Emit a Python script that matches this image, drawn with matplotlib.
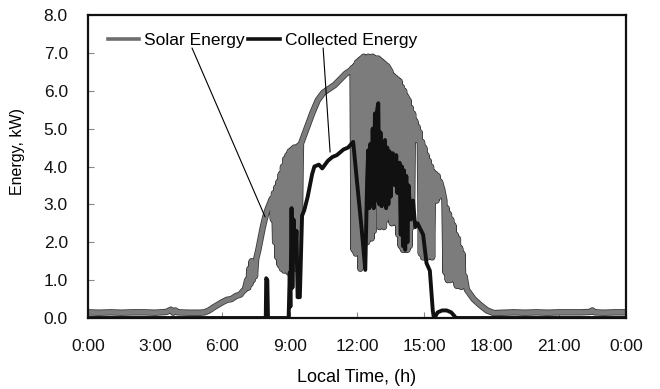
import matplotlib
matplotlib.use("Agg")
import matplotlib.pyplot as plt
import matplotlib.patheffects as pe
from matplotlib.lines import Line2D

plt.rcParams['font.family'] = ['Liberation Sans', 'DejaVu Sans']

# Solar energy on the collector surface (hour of day, kW)
solar_hours = [
    0.0, 0.5, 1.0, 1.5, 2.0, 2.5, 3.0, 3.5, 3.7, 3.8, 3.9, 4.0, 4.5, 5.0, 5.2,
    5.4, 5.6, 5.8, 6.0, 6.2, 6.4, 6.6, 6.8, 6.9,
    7.0, 7.1, 7.15, 7.2, 7.25, 7.3, 7.35, 7.4, 7.45, 7.5, 7.6, 7.7, 7.8, 7.9,
    8.0, 8.1, 8.2,
    8.25, 8.3, 8.35, 8.4, 8.45, 8.5, 8.55, 8.6, 8.65, 8.7, 8.75, 8.8, 8.85,
    8.9, 8.95, 9.0, 9.05, 9.1, 9.15, 9.2, 9.25, 9.3, 9.35, 9.4, 9.45, 9.5,
    9.75, 10.0, 10.25, 10.5, 10.75, 11.0, 11.25, 11.5, 11.75,
    11.8, 11.85, 11.9, 11.95, 12.0, 12.05, 12.1, 12.15, 12.2, 12.25, 12.3,
    12.35, 12.4, 12.45, 12.5, 12.55, 12.6, 12.65, 12.7, 12.75, 12.8, 12.95,
    13.0, 13.05, 13.1, 13.15, 13.2, 13.25, 13.3, 13.35, 13.5, 13.55, 13.6,
    13.65, 13.7, 13.75, 13.8, 13.85, 13.9, 13.95, 14.0, 14.05, 14.1, 14.15,
    14.2, 14.25, 14.3, 14.35, 14.4, 14.45, 14.5, 14.55, 14.6, 14.65, 14.7,
    14.75, 14.8, 14.85, 14.9, 14.95, 15.0, 15.05, 15.1, 15.15, 15.2, 15.25,
    15.3, 15.35, 15.4, 15.45, 15.5, 15.55, 15.6, 15.65, 15.7, 15.8, 15.9,
    15.95, 16.0, 16.05, 16.1, 16.15, 16.2, 16.25, 16.3, 16.35, 16.4, 16.45,
    16.5, 16.55, 16.6, 16.65, 16.7, 16.75, 16.8, 16.9,
    17.2, 17.5, 17.8, 18.1, 18.5, 19.0, 19.5, 20.0, 20.5, 21.0, 21.5, 22.0,
    22.4, 22.5, 22.6, 23.0, 23.5, 24.0,
]
solar_kw = [
    0.15, 0.14, 0.15, 0.14, 0.15, 0.15, 0.14, 0.16, 0.22, 0.14, 0.20, 0.15, 0.14, 0.14, 0.15,
    0.20, 0.28, 0.35, 0.42, 0.48, 0.50, 0.58, 0.62, 0.70,
    0.75, 1.00, 0.80, 1.30, 0.90, 1.50, 1.00, 1.45, 1.10, 1.55, 1.80, 2.10, 2.40, 2.65,
    2.85, 3.00, 3.15,
    2.60, 3.30, 2.00, 3.45, 1.60, 3.60, 1.40, 3.80, 1.30, 4.00, 1.25, 4.20, 1.40,
    4.30, 1.20, 4.40, 1.30, 4.45, 2.00, 4.50, 1.30, 4.50, 1.50, 4.55, 2.50, 4.60,
    5.00, 5.40, 5.75, 5.95, 6.05, 6.15, 6.30, 6.45, 6.55,
    6.60, 1.80, 6.65, 1.70, 6.75, 1.80, 6.80, 1.30, 6.85, 2.00, 6.90,
    2.10, 6.85, 2.00, 6.90, 2.20, 6.88, 2.10, 6.90, 2.30, 6.85, 6.85,
    2.40, 6.80, 2.50, 6.75, 2.40, 6.70, 2.60, 6.65, 6.50, 2.50, 6.40,
    2.60, 6.35, 2.50, 6.30, 2.20, 6.25, 1.90, 6.10, 1.80, 6.00, 1.80,
    5.85, 1.80, 5.75, 1.90, 5.55, 2.40, 5.40, 4.80, 5.20, 4.70, 5.05,
    4.70, 4.90, 1.70, 4.65, 1.60, 4.50, 1.60, 4.30, 1.60, 4.15, 1.70,
    4.00, 1.60, 3.85, 3.10, 3.80, 3.10, 3.75, 3.20, 3.60, 3.40, 3.10,
    1.20, 2.90, 1.00, 2.75, 1.00, 2.60, 1.10, 2.45, 1.00, 2.20, 0.85,
    2.10, 0.85, 1.85, 0.82, 1.70, 0.85, 1.10, 0.75,
    0.50, 0.34, 0.20, 0.13, 0.14, 0.15, 0.14, 0.15, 0.14, 0.15, 0.15, 0.15,
    0.16, 0.20, 0.15, 0.14, 0.15, 0.15,
]

# Energy collected by the system (hour of day, kW)
collected_hours = [
    0.0, 7.9, 7.93, 7.95, 8.0, 8.03, 8.95, 9.0, 9.03, 9.08, 9.12, 9.17, 9.22,
    9.3, 9.35, 9.45, 9.55, 9.65, 9.8, 10.0, 10.1, 10.3, 10.45, 10.7, 10.9,
    11.1, 11.4, 11.6, 11.83, 12.0, 12.2, 12.37, 12.45, 12.5, 12.55, 12.6,
    12.65, 12.7, 12.75, 12.8, 12.85, 12.9, 12.95, 13.0, 13.05, 13.1, 13.15,
    13.2, 13.25, 13.3, 13.35, 13.4, 13.45, 13.5, 13.6, 13.7, 13.75, 13.8,
    13.9, 13.95, 14.0, 14.05, 14.1, 14.15, 14.2, 14.25, 14.3, 14.4, 14.5,
    14.6, 14.7, 14.95, 15.1, 15.25, 15.38, 15.43, 15.5, 15.6, 15.8, 16.0,
    16.2, 16.35, 16.4, 24.0,
]
collected_kw = [
    0.0, 0.0, 0.0, 1.05, 1.00, 0.0, 0.0, 1.20, 0.30, 2.90, 0.80, 2.60, 1.50,
    2.30, 0.55, 0.55, 2.70, 2.85, 3.20, 3.80, 4.00, 4.05, 3.95, 4.15, 4.25,
    4.30, 4.45, 4.50, 4.65, 3.60, 2.40, 1.27, 3.60, 4.43, 2.90, 4.60,
    3.00, 5.00, 2.90, 5.40, 3.10, 5.50, 5.67, 3.00, 4.90, 2.95, 4.60,
    3.10, 4.70, 2.90, 4.50, 3.00, 4.40, 3.20, 4.35, 3.50, 4.30, 3.30,
    4.10, 2.20, 4.00, 1.90, 3.90, 1.80, 3.75, 2.00, 3.50, 2.60, 3.10,
    2.40, 2.50, 2.20, 1.45, 1.25, 0.20, 0.0, 0.05, 0.15, 0.20, 0.20,
    0.15, 0.05, 0.0, 0.0,
]

tick_hours = [0, 3, 6, 9, 12, 15, 18, 21, 24]
tick_labels = ["0:00", "3:00", "6:00", "9:00", "12:00", "15:00", "18:00", "21:00", "0:00"]
energy_ticks = [0, 1, 2, 3, 4, 5, 6, 7, 8]

fig = plt.figure(figsize=(6.6, 3.89), dpi=100)
ax = fig.add_axes([0.1333, 0.1825, 0.8152, 0.7789])

ax.plot(solar_hours, solar_kw, color='#7c7c7c', lw=3.4,
        solid_joinstyle='round',
        path_effects=[pe.Stroke(linewidth=4.6, foreground='#3a3a3a'), pe.Normal()])
ax.plot(collected_hours, collected_kw, color='#111111', lw=2.8,
        solid_joinstyle='round')

ax.set_xlim(0, 24)
ax.set_ylim(0, 8)
ax.set_xticks(tick_hours)
ax.set_xticklabels(tick_labels)
ax.set_yticks(energy_ticks)
ax.set_yticklabels([f"{v:.1f}" for v in energy_ticks])
ax.tick_params(axis='both', direction='in', length=4, width=0.8, color='#888888',
               labelsize=12.5, labelcolor='#111111')
ax.tick_params(axis='x', pad=15)
ax.tick_params(axis='y', pad=14.5)
for s in ax.spines.values():
    s.set_linewidth(1.6)
    s.set_color('#111111')

ax.set_xlabel("Local Time, (h)", fontsize=13, labelpad=11)
ax.set_ylabel("Energy, kW)", fontsize=11.5)
ax.yaxis.set_label_coords(-0.117, 0.551)

legend_handles = [Line2D([], [], color='#6e6e6e', lw=2.6, label='Solar Energy'),
                  Line2D([], [], color='#111111', lw=2.6, label='Collected Energy')]
ax.legend(handles=legend_handles, loc='center left',
          bbox_to_anchor=(0.037, 0.917), ncol=2, frameon=False, fontsize=12.5,
          handlelength=1.8, handletextpad=0.3, columnspacing=0.2,
          borderpad=0, borderaxespad=0)

# leader lines from the legend labels to the curves
ax.annotate("", xy=(7.9, 2.67), xytext=(4.64, 7.13),
            arrowprops=dict(arrowstyle='-', color='black', lw=0.8,
                            shrinkA=0, shrinkB=0))
ax.annotate("", xy=(10.8, 4.38), xytext=(10.49, 7.13),
            arrowprops=dict(arrowstyle='-', color='black', lw=0.8,
                            shrinkA=0, shrinkB=0))

fig.savefig("out.png", dpi=100)
